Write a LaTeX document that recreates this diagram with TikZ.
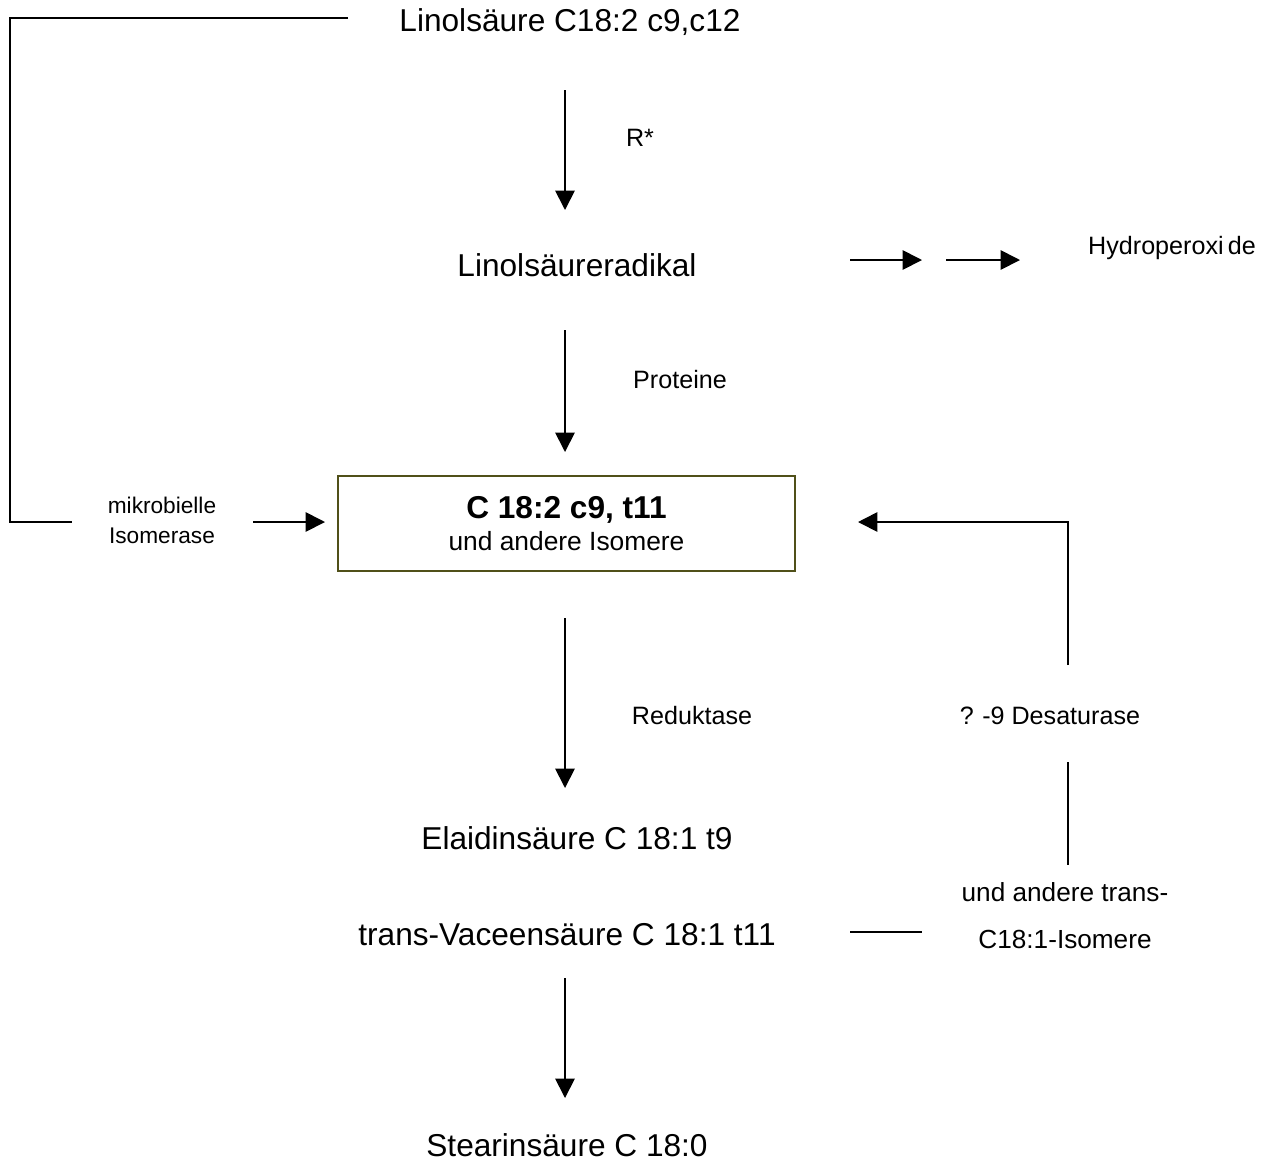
\documentclass[tikz,border=0pt]{standalone}
\usepackage{fontspec}
\setmainfont{Liberation Sans}
\usetikzlibrary{arrows.meta}
\definecolor{boxolive}{RGB}{80,80,25}

\begin{document}
\begin{tikzpicture}[x=0.02cm,y=-0.02cm,line width=1pt,
  big/.style={font=\fontsize{18}{19.5}\selectfont},
  small/.style={font=\fontsize{14.3}{17}\selectfont},
  pfeil/.style={-{Triangle[length=11pt,width=11pt]}}]
\useasboundingbox (0,0) rectangle (1274,1164);

% Stoffe
\node[big] (lin) at (570,22) {Linolsäure C18:2 c9,c12};
\node[big] (rad) at (577,265) {Linolsäureradikal};
\node[small] (hyd) at (1172,248) {Hydroperoxi\,de};
\node[draw=boxolive,minimum width=9.14cm,minimum height=1.9cm,align=center,big] (cla) at (566.5,523.5)
  {\textbf{C 18:2 c9, t11}\\[-1pt]{\fontsize{15}{17}\selectfont und andere Isomere}};
\node[big] (ela) at (577,838) {Elaidinsäure C 18:1 t9};
\node[big] (vac) at (567,935) {trans-Vaceensäure C 18:1 t11};
\node[big] (ste) at (567,1145) {Stearinsäure C 18:0};

% Beschriftungen
\node[small] (rs) at (640,138) {R*};
\node[small] (pro) at (680,380) {Proteine};
\node[small] (red) at (692,716) {Reduktase};
\node[align=center,font=\fontsize{12.9}{17}\selectfont] (iso) at (162,520) {mikrobielle\\Isomerase};
\node[small] (des) at (1050,716) {?\,\,-9 Desaturase};
\node[align=center,font=\fontsize{14.9}{26.8}\selectfont] (tra) at (1065,916) {und andere trans-\\C18:1-Isomere};

% Endpunkte
\coordinate (a1) at (565,90);  \coordinate (b1) at (565,210);
\coordinate (a2) at (565,330); \coordinate (b2) at (565,452);
\coordinate (a3) at (565,618); \coordinate (b3) at (565,788);
\coordinate (a4) at (565,978); \coordinate (b4) at (565,1098);
\coordinate (h1) at (850,260); \coordinate (h2) at (922,260);
\coordinate (h3) at (946,260); \coordinate (h4) at (1020,260);
\coordinate (l1) at (348,18);  \coordinate (l2) at (10,522); \coordinate (l3) at (72,522);
\coordinate (i1) at (253,522); \coordinate (i2) at (325,522);
\coordinate (d1) at (1068,665); \coordinate (d2) at (858,522);
\coordinate (d3) at (1068,762); \coordinate (d4) at (1068,865);
\coordinate (v1) at (850,932); \coordinate (v2) at (922,932);

\draw[pfeil] (a1) -- (b1);
\draw[pfeil] (a2) -- (b2);
\draw[pfeil] (a3) -- (b3);
\draw[pfeil] (a4) -- (b4);
\draw[pfeil] (h1) -- (h2);
\draw[pfeil] (h3) -- (h4);
\draw (l1) -| (l2) -- (l3);
\draw[pfeil] (i1) -- (i2);
\draw[pfeil] (d1) |- (d2);
\draw (d3) -- (d4);
\draw (v1) -- (v2);
\end{tikzpicture}
\end{document}
